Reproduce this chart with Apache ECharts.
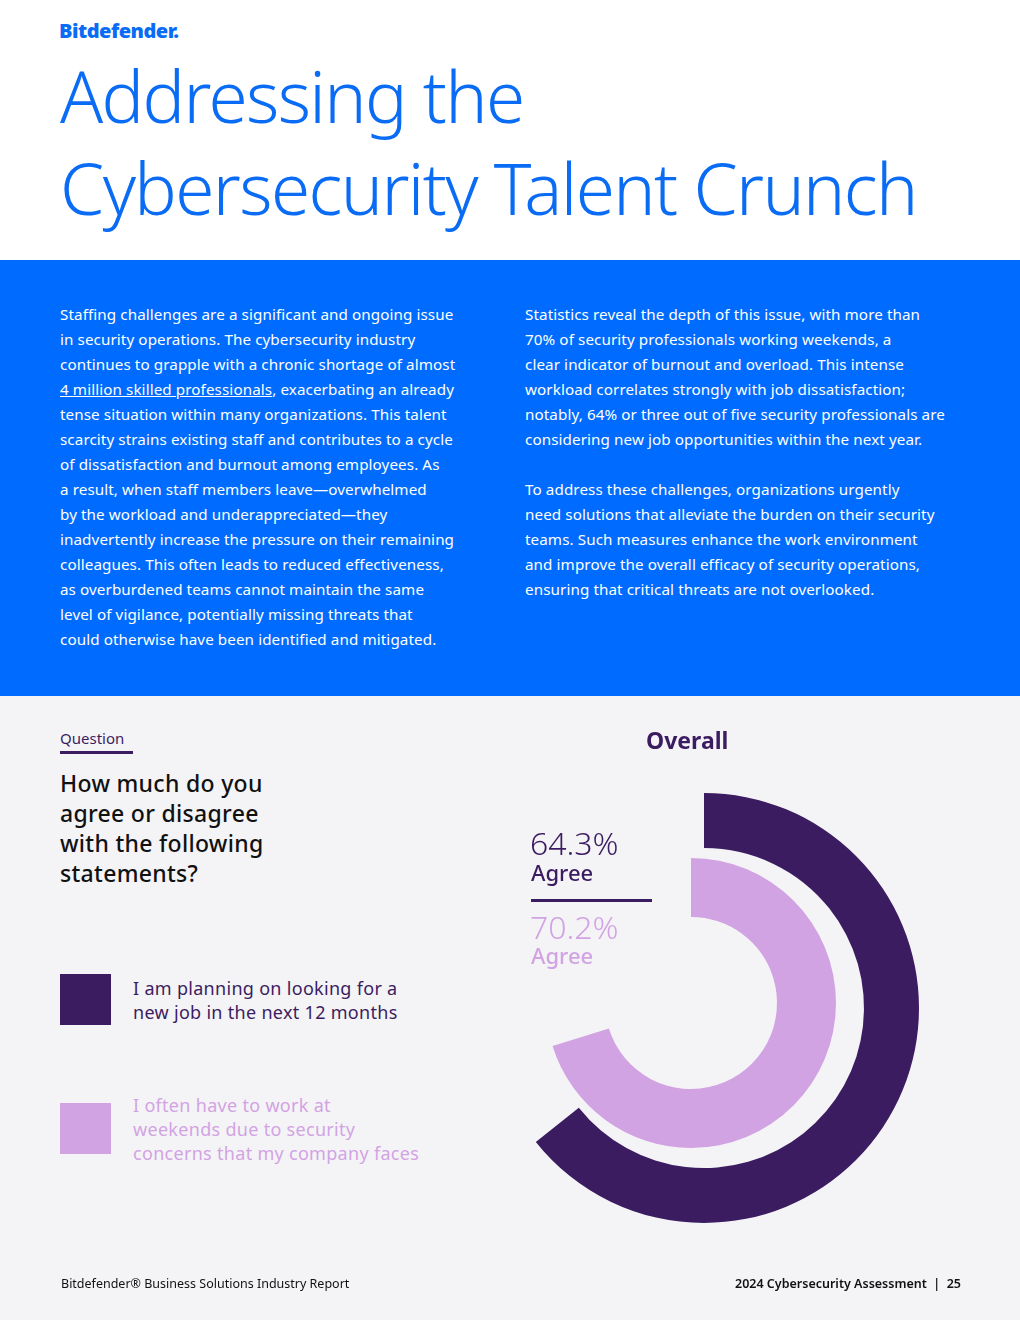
<!DOCTYPE html>
<html><head><meta charset="utf-8">
<script src="https://cdn.jsdelivr.net/npm/echarts@6/dist/echarts.min.js"></script>
<style>
body{margin:0;width:1020px;height:1320px;position:relative;font-family:"Noto Sans",sans-serif;background:#f4f4f7;overflow:hidden}
.top{position:absolute;left:0;top:0;width:1020px;height:260px;background:#fff}
.logo{position:absolute;left:59px;top:17px;font-weight:900;font-size:20px;color:#0a6cf5;letter-spacing:-0.5px}
h1{position:absolute;left:60px;top:50px;margin:0;font-weight:300;font-size:71px;line-height:92px;color:#0a6cf5;letter-spacing:-1.6px}
.band{position:absolute;left:0;top:260px;width:1020px;height:436px;background:#006cff;color:#fff;font-size:15.2px;line-height:25px}
.col{position:absolute;top:42px;white-space:nowrap;letter-spacing:0.1px}
.q{position:absolute;left:60px;top:728px;font-size:15px;color:#3c1c61;border-bottom:3px solid #3c1c61;padding-bottom:3px;width:73px}
.qt{position:absolute;left:60px;top:768px;font-size:23px;line-height:30px;font-weight:500;color:#111;width:240px;letter-spacing:0.3px}
.sw{position:absolute;left:60px;width:51px;height:51px}
.lt{position:absolute;left:133px;font-size:18px;line-height:24px;letter-spacing:0.3px}
.foot{position:absolute;top:1275px;font-size:12.5px;color:#111}
#c{position:absolute;left:0;top:696px;width:1020px;height:580px}
</style></head><body>
<div class="top"><div class="logo">Bitdefender.</div>
<h1>Addressing the<br>Cybersecurity Talent Crunch</h1></div>
<div class="band">
<div class="col" style="left:60px">Staffing challenges are a significant and ongoing issue<br>in security operations. The cybersecurity industry<br>continues to grapple with a chronic shortage of almost<br><u>4 million skilled professionals</u>, exacerbating an already<br>tense situation within many organizations. This talent<br>scarcity strains existing staff and contributes to a cycle<br>of dissatisfaction and burnout among employees. As<br>a result, when staff members leave—overwhelmed<br>by the workload and underappreciated—they<br>inadvertently increase the pressure on their remaining<br>colleagues. This often leads to reduced effectiveness,<br>as overburdened teams cannot maintain the same<br>level of vigilance, potentially missing threats that<br>could otherwise have been identified and mitigated.</div>
<div class="col" style="left:525px">Statistics reveal the depth of this issue, with more than<br>70% of security professionals working weekends, a<br>clear indicator of burnout and overload. This intense<br>workload correlates strongly with job dissatisfaction;<br>notably, 64% or three out of five security professionals are<br>considering new job opportunities within the next year.<br><br>To address these challenges, organizations urgently<br>need solutions that alleviate the burden on their security<br>teams. Such measures enhance the work environment<br>and improve the overall efficacy of security operations,<br>ensuring that critical threats are not overlooked.</div>
</div>
<div class="q">Question</div>
<div class="qt">How much do you agree or disagree with the following statements?</div>
<div class="sw" style="top:974px;background:#3c1c61"></div>
<div class="lt" style="top:976px;color:#3c1c61">I am planning on looking for a<br>new job in the next 12 months</div>
<div class="sw" style="top:1103px;background:#d2a3e3"></div>
<div class="lt" style="top:1093px;color:#d2a3e3">I often have to work at<br>weekends due to security<br>concerns that my company faces</div>
<div id="c"></div>
<div class="foot" style="left:61px">Bitdefender® Business Solutions Industry Report</div>
<div class="foot" style="right:59px;font-weight:600">2024 Cybersecurity Assessment &nbsp;|&nbsp; 25</div>
<script>
const statements=["I am planning on looking for a new job in the next 12 months","I often have to work at weekends due to security concerns that my company faces"];
const agreeValues=[64.3,70.2];
const colors=["#3c1c61","#d2a3e3"];
const chart=echarts.init(document.getElementById('c'));
function ring(i,center,radius){return{type:'pie',center:center,radius:radius,startAngle:90,clockwise:true,silent:true,label:{show:false},labelLine:{show:false},
 data:[{value:agreeValues[i],name:statements[i],itemStyle:{color:colors[i]}},{value:100-agreeValues[i],name:'rest',itemStyle:{color:'transparent'}}]};}
chart.setOption({animation:false,
 title:{text:'Overall',left:641,top:30,textStyle:{fontSize:23,fontWeight:'bold',color:'#3c1c61',fontFamily:'Noto Sans'}},
 graphic:[
  {type:'text',left:530,top:134,style:{text:agreeValues[0].toFixed(1)+'%',fontSize:32,fill:colors[0],fontFamily:'Noto Sans',fontWeight:300}},
  {type:'text',left:531,top:168,style:{text:'Agree',fontSize:22,fill:colors[0],fontFamily:'Noto Sans',fontWeight:500}},
  {type:'rect',shape:{x:531,y:203,width:121,height:3},style:{fill:colors[0]}},
  {type:'text',left:530,top:218,style:{text:agreeValues[1].toFixed(1)+'%',fontSize:32,fill:colors[1],fontFamily:'Noto Sans',fontWeight:300}},
  {type:'text',left:531,top:251,style:{text:'Agree',fontSize:22,fill:colors[1],fontFamily:'Noto Sans',fontWeight:500}}
 ],
 series:[ring(0,[704,312],[160,215]),ring(1,[691,307],[86,145])]});
</script></body></html>
